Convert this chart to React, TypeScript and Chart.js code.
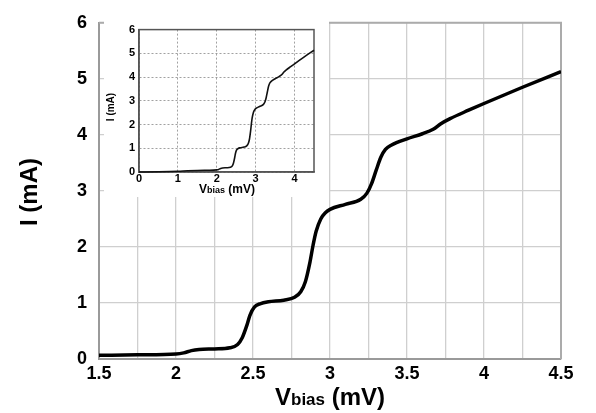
import React, { useEffect, useRef } from "react";
import { Chart, registerables } from "chart.js";

Chart.register(...registerables);

// Main curve: bias voltage (mV) and current (mA)
const vBias: number[] = [
  1.5, 1.75, 2.0, 2.05, 2.1, 2.15, 2.25, 2.35, 2.4, 2.43, 2.46, 2.48, 2.51, 2.55, 2.6, 2.7,
  2.77, 2.81, 2.84, 2.87, 2.89, 2.91, 2.94, 2.97, 3.0, 3.1, 3.2, 3.24, 3.27, 3.3, 3.33, 3.36,
  3.4, 3.5, 3.6, 3.67, 3.72, 3.78, 3.9, 4.0, 4.25, 4.5,
];
const current: number[] = [
  0.065, 0.075, 0.09, 0.11, 0.15, 0.17, 0.18, 0.2, 0.26, 0.38, 0.6, 0.78, 0.93, 0.99, 1.02, 1.05,
  1.1, 1.2, 1.38, 1.73, 2.03, 2.28, 2.5, 2.61, 2.67, 2.76, 2.85, 2.96, 3.13, 3.37, 3.6, 3.74,
  3.82, 3.93, 4.02, 4.1, 4.2, 4.29, 4.44, 4.56, 4.85, 5.13,
];
// Low-bias part shown only in the inset
const vLow: number[] = [0, 0.5, 1.0, 1.25];
const iLow: number[] = [0, 0.01, 0.03, 0.05];

const mainXTicks: number[] = [1.5, 2, 2.5, 3, 3.5, 4, 4.5];
const mainYTicks: number[] = [0, 1, 2, 3, 4, 5, 6];
const insetXTicks: number[] = [0, 1, 2, 3, 4];

const FONT = "'Liberation Sans', Arial, sans-serif";

function drawVbias(
  ctx: CanvasRenderingContext2D,
  cx: number,
  baseline: number,
  big: number,
  small: number
) {
  const parts: [string, number][] = [
    ["V", big],
    ["bias", small],
    [" (mV)", big],
  ];
  let total = 0;
  const widths: number[] = [];
  parts.forEach(([t, s]) => {
    ctx.font = `bold ${s}px ${FONT}`;
    const w = ctx.measureText(t).width;
    widths.push(w);
    total += w;
  });
  let x = cx - total / 2;
  ctx.textBaseline = "alphabetic";
  ctx.textAlign = "left";
  ctx.fillStyle = "#000";
  parts.forEach(([t, s], i) => {
    ctx.font = `bold ${s}px ${FONT}`;
    ctx.fillText(t, x, baseline);
    x += widths[i];
  });
}

function makeTitlePlugin(opts: {
  yx: number;
  yy: number;
  ySize: number;
  vx: number;
  vy: number;
  vBig: number;
  vSmall: number;
}) {
  return {
    id: "titles",
    afterDraw(chart: any) {
      const ctx: CanvasRenderingContext2D = chart.ctx;
      ctx.save();
      ctx.translate(opts.yx, opts.yy);
      ctx.rotate(-Math.PI / 2);
      ctx.font = `bold ${opts.ySize}px ${FONT}`;
      ctx.fillStyle = "#000";
      ctx.textAlign = "center";
      ctx.textBaseline = "alphabetic";
      ctx.fillText("I (mA)", 0, 0);
      ctx.restore();
      ctx.save();
      drawVbias(ctx, opts.vx, opts.vy, opts.vBig, opts.vSmall);
      ctx.restore();
    },
  };
}

const whiteBg = {
  id: "whiteBg",
  beforeDraw(chart: any) {
    const ctx = chart.ctx;
    ctx.save();
    ctx.fillStyle = "#fff";
    ctx.fillRect(0, 0, chart.width, chart.height);
    ctx.restore();
  },
};

const mainFrame = {
  id: "mainFrame",
  beforeDatasetsDraw(chart: any) {
    const { ctx, chartArea: a } = chart;
    ctx.save();
    ctx.strokeStyle = "#ababab";
    ctx.lineWidth = 2;
    ctx.beginPath();
    ctx.moveTo(a.left, a.top);
    ctx.lineTo(a.right, a.top);
    ctx.lineTo(a.right, a.bottom);
    ctx.stroke();
    ctx.restore();
  },
};

export default function App() {
  const mainRef = useRef<HTMLCanvasElement>(null);
  const insetRef = useRef<HTMLCanvasElement>(null);

  useEffect(() => {
    document.body.style.margin = "0";
    const mainData = vBias.map((x, i) => ({ x, y: current[i] }));
    const insetData = [
      ...vLow.map((x, i) => ({ x, y: iLow[i] })),
      ...mainData,
    ];

    const main = new Chart(mainRef.current!, {
      type: "line",
      data: {
        datasets: [
          {
            data: mainData,
            borderColor: "#000",
            borderWidth: 3.5,
            pointRadius: 0,
            cubicInterpolationMode: "monotone",
            fill: false,
          },
        ],
      },
      options: {
        animation: false,
        responsive: false,
        events: [],
        layout: { padding: { top: 18, right: 35, left: 0, bottom: 0 } },
        plugins: { legend: { display: false }, tooltip: { enabled: false } },
        scales: {
          x: {
            type: "linear",
            min: 1.5,
            max: 4.5,
            afterFit: (s: any) => {
              s.height = 54;
            },
            afterBuildTicks: (s: any) => {
              const t = [];
              for (let i = 0; i <= 12; i++) t.push({ value: 1.5 + i * 0.25 });
              s.ticks = t;
            },
            grid: { color: "#cfcfcf", lineWidth: 1.3, drawTicks: false },
            border: { color: "#9a9a9a", width: 2 },
            ticks: {
              autoSkip: false,
              maxRotation: 0,
              padding: 4,
              color: "#000",
              font: { family: FONT, size: 18, weight: "bold" },
              callback: (v: any) => {
                const n = Number(v);
                const m = mainXTicks.find((t) => Math.abs(t - n) < 1e-6);
                return m === undefined ? "" : String(m);
              },
            },
          },
          y: {
            type: "linear",
            min: 0,
            max: 6,
            afterFit: (s: any) => {
              s.width = 99;
            },
            afterBuildTicks: (s: any) => {
              s.ticks = mainYTicks.map((v) => ({ value: v }));
            },
            grid: { color: "#cfcfcf", lineWidth: 1.3, drawTicks: false },
            border: { color: "#9a9a9a", width: 2 },
            ticks: {
              padding: 12,
              color: "#000",
              font: { family: FONT, size: 18, weight: "bold" },
            },
          },
        },
      },
      plugins: [
        mainFrame,
        makeTitlePlugin({ yx: 37, yy: 192, ySize: 24, vx: 330, vy: 405, vBig: 24, vSmall: 17 }),
      ],
    } as any);

    const inset = new Chart(insetRef.current!, {
      type: "line",
      data: {
        datasets: [
          {
            data: insetData,
            borderColor: "#111",
            borderWidth: 1.6,
            pointRadius: 0,
            cubicInterpolationMode: "monotone",
            fill: false,
            clip: 2,
          },
        ],
      },
      options: {
        animation: false,
        responsive: false,
        events: [],
        layout: { padding: { top: 10, right: 15, left: 0, bottom: 0 } },
        plugins: { legend: { display: false }, tooltip: { enabled: false } },
        scales: {
          x: {
            type: "linear",
            min: 0,
            max: 4.5,
            afterFit: (s: any) => {
              s.height = 25;
            },
            afterBuildTicks: (s: any) => {
              s.ticks = insetXTicks.map((v) => ({ value: v }));
            },
            grid: { color: "#8a8a8a", lineWidth: 0.8, drawTicks: false },
            border: { color: "#555", width: 1.5, dash: [2, 2] },
            ticks: {
              autoSkip: false,
              maxRotation: 0,
              padding: 0,
              color: "#000",
              font: { family: FONT, size: 11, weight: "bold" },
            },
          },
          y: {
            type: "linear",
            min: 0,
            max: 6,
            afterFit: (s: any) => {
              s.width = 35;
            },
            afterBuildTicks: (s: any) => {
              s.ticks = mainYTicks.map((v) => ({ value: v }));
            },
            grid: { color: "#8a8a8a", lineWidth: 0.8, drawTicks: false },
            border: { color: "#555", width: 1.5, dash: [2, 2] },
            ticks: {
              padding: 4,
              color: "#000",
              font: { family: FONT, size: 11, weight: "bold" },
            },
          },
        },
      },
      plugins: [
        whiteBg,
        {
          id: "insetFrame",
          beforeDatasetsDraw(chart: any) {
            const { ctx, chartArea: a } = chart;
            ctx.save();
            ctx.setLineDash([]);
            ctx.strokeStyle = "#555";
            ctx.lineWidth = 1.5;
            ctx.strokeRect(a.left, a.top, a.right - a.left, a.bottom - a.top);
            ctx.restore();
          },
        },
        makeTitlePlugin({ yx: 10, yy: 88, ySize: 10, vx: 123, vy: 174, vBig: 12, vSmall: 9 }),
      ],
    } as any);

    return () => {
      main.destroy();
      inset.destroy();
    };
  }, []);

  return (
    <div style={{ position: "relative", width: 596, height: 413 }}>
      <canvas
        ref={mainRef}
        width={596}
        height={413}
        style={{ position: "absolute", left: 0, top: 0, width: 596, height: 413 }}
      />
      <canvas
        ref={insetRef}
        width={225}
        height={178}
        style={{ position: "absolute", left: 104, top: 19, width: 225, height: 178 }}
      />
    </div>
  );
}
